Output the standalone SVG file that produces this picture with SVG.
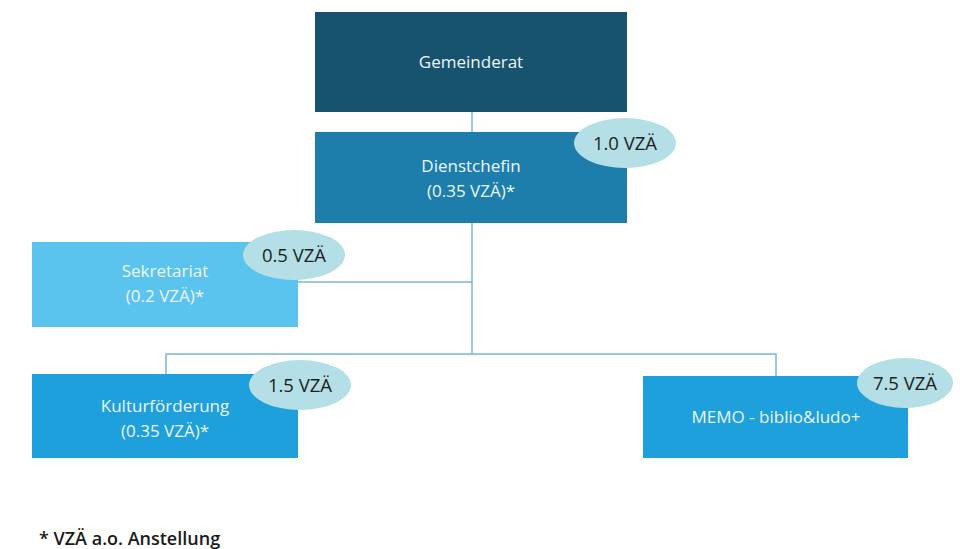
<svg xmlns="http://www.w3.org/2000/svg" width="960" height="549" viewBox="0 0 960 549">
  <style>
    .box-text { font-family: "Open Sans", "Liberation Sans", sans-serif; font-size: 17px; fill: #eef6fb; text-anchor: middle; }
    .badge { fill: #b4dfe6; }
    .badge-text { font-family: "Open Sans", "Liberation Sans", sans-serif; font-size: 18.5px; fill: #1e1e1e; text-anchor: middle; }
    .conn { stroke: #7fb3da; stroke-width: 1.5; fill: none; }
    .note { font-family: "Open Sans", "Liberation Sans", sans-serif; font-size: 18px; font-weight: 600; fill: #1a1a1a; }
  </style>
  <rect width="960" height="549" fill="#ffffff"/>

  <!-- connectors -->
  <g id="connectors">
    <line class="conn" x1="472" y1="112" x2="472" y2="132"/>
    <polyline class="conn" points="472,223 472,354"/>
    <polyline class="conn" points="298,282 472,282"/>
    <polyline class="conn" points="166,374 166,354 776,354 776,376"/>
  </g>

  <g id="gemeinderat">
    <rect x="315" y="12" width="312" height="100" fill="#17536f"/>
    <text class="box-text" x="471" y="68">Gemeinderat</text>
  </g>

  <g id="dienstchefin">
    <rect x="315" y="132" width="312" height="91" fill="#1d7eab"/>
    <text class="box-text" x="471" y="172">Dienstchefin</text>
    <text class="box-text" x="471" y="197">(0.35 VZÄ)*</text>
    <ellipse class="badge" cx="625" cy="143" rx="51" ry="25"/>
    <text class="badge-text" x="625" y="150">1.0 VZÄ</text>
  </g>

  <g id="sekretariat">
    <rect x="32" y="242" width="266" height="85" fill="#5bc4ee"/>
    <text class="box-text" x="165" y="277">Sekretariat</text>
    <text class="box-text" x="165" y="302">(0.2 VZÄ)*</text>
    <ellipse class="badge" cx="294" cy="255" rx="51" ry="25"/>
    <text class="badge-text" x="294" y="262">0.5 VZÄ</text>
  </g>

  <g id="kulturfoerderung">
    <rect x="32" y="374" width="266" height="84" fill="#1da0dc"/>
    <text class="box-text" x="165" y="412">Kulturförderung</text>
    <text class="box-text" x="165" y="437">(0.35 VZÄ)*</text>
    <ellipse class="badge" cx="300" cy="385" rx="51" ry="25"/>
    <text class="badge-text" x="300" y="392">1.5 VZÄ</text>
  </g>

  <g id="memo">
    <rect x="643" y="376" width="265" height="82" fill="#1da0dc"/>
    <text class="box-text" x="776" y="423">MEMO - biblio&amp;ludo+</text>
    <ellipse class="badge" cx="905" cy="383" rx="48" ry="25"/>
    <text class="badge-text" x="905" y="390">7.5 VZÄ</text>
  </g>

  <text class="note" x="39" y="545">* VZÄ a.o. Anstellung</text>
</svg>
